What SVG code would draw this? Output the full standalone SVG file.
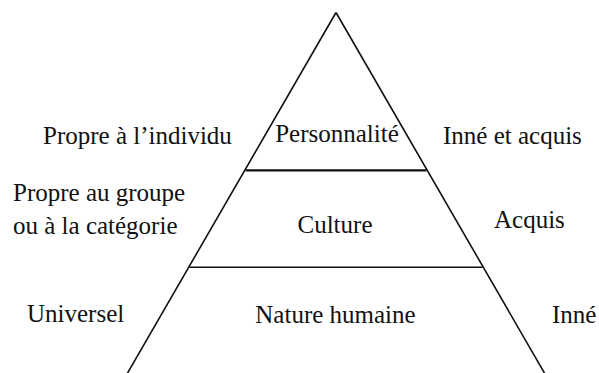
<svg xmlns="http://www.w3.org/2000/svg" width="599" height="373" viewBox="0 0 599 373">
<style>
text{font-family:'Liberation Serif','Times New Roman','DejaVu Serif',serif;font-size:25px;fill:#111}
.c{text-anchor:middle}
.e{stroke:#111;fill:none;stroke-width:1.6}
</style>
<rect width="599" height="373" fill="#fff"/>
<g id="connectors">
<line class="e" x1="336" y1="12.5" x2="127" y2="374"/>
<line class="e" x1="336" y1="12.5" x2="545" y2="374"/>
<line class="e" x1="245.5" y1="170.3" x2="426.5" y2="170.3" style="stroke-width:2.2"/>
<line class="e" x1="189.5" y1="267.3" x2="482.5" y2="267.3"/>
</g>
<g id="personnalite"><text class="c" x="337" y="142" font-family="Liberation Serif, serif">Personnalité</text></g>
<g id="culture"><text class="c" x="335" y="233" font-family="Liberation Serif, serif">Culture</text></g>
<g id="nature"><text class="c" x="335.5" y="323" font-family="Liberation Serif, serif">Nature humaine</text></g>
<g id="left-individu"><text x="43" y="144" font-family="Liberation Serif, serif">Propre à l’individu</text></g>
<g id="left-groupe"><text x="13" y="201" font-family="Liberation Serif, serif">Propre au groupe</text><text x="13" y="234" font-family="Liberation Serif, serif">ou à la catégorie</text></g>
<g id="left-universel"><text x="27" y="322" font-family="Liberation Serif, serif">Universel</text></g>
<g id="right-inne-acquis"><text x="443" y="144" font-family="Liberation Serif, serif">Inné et acquis</text></g>
<g id="right-acquis"><text x="494" y="228" font-family="Liberation Serif, serif">Acquis</text></g>
<g id="right-inne"><text x="552" y="323" font-family="Liberation Serif, serif">Inné</text></g>
</svg>
